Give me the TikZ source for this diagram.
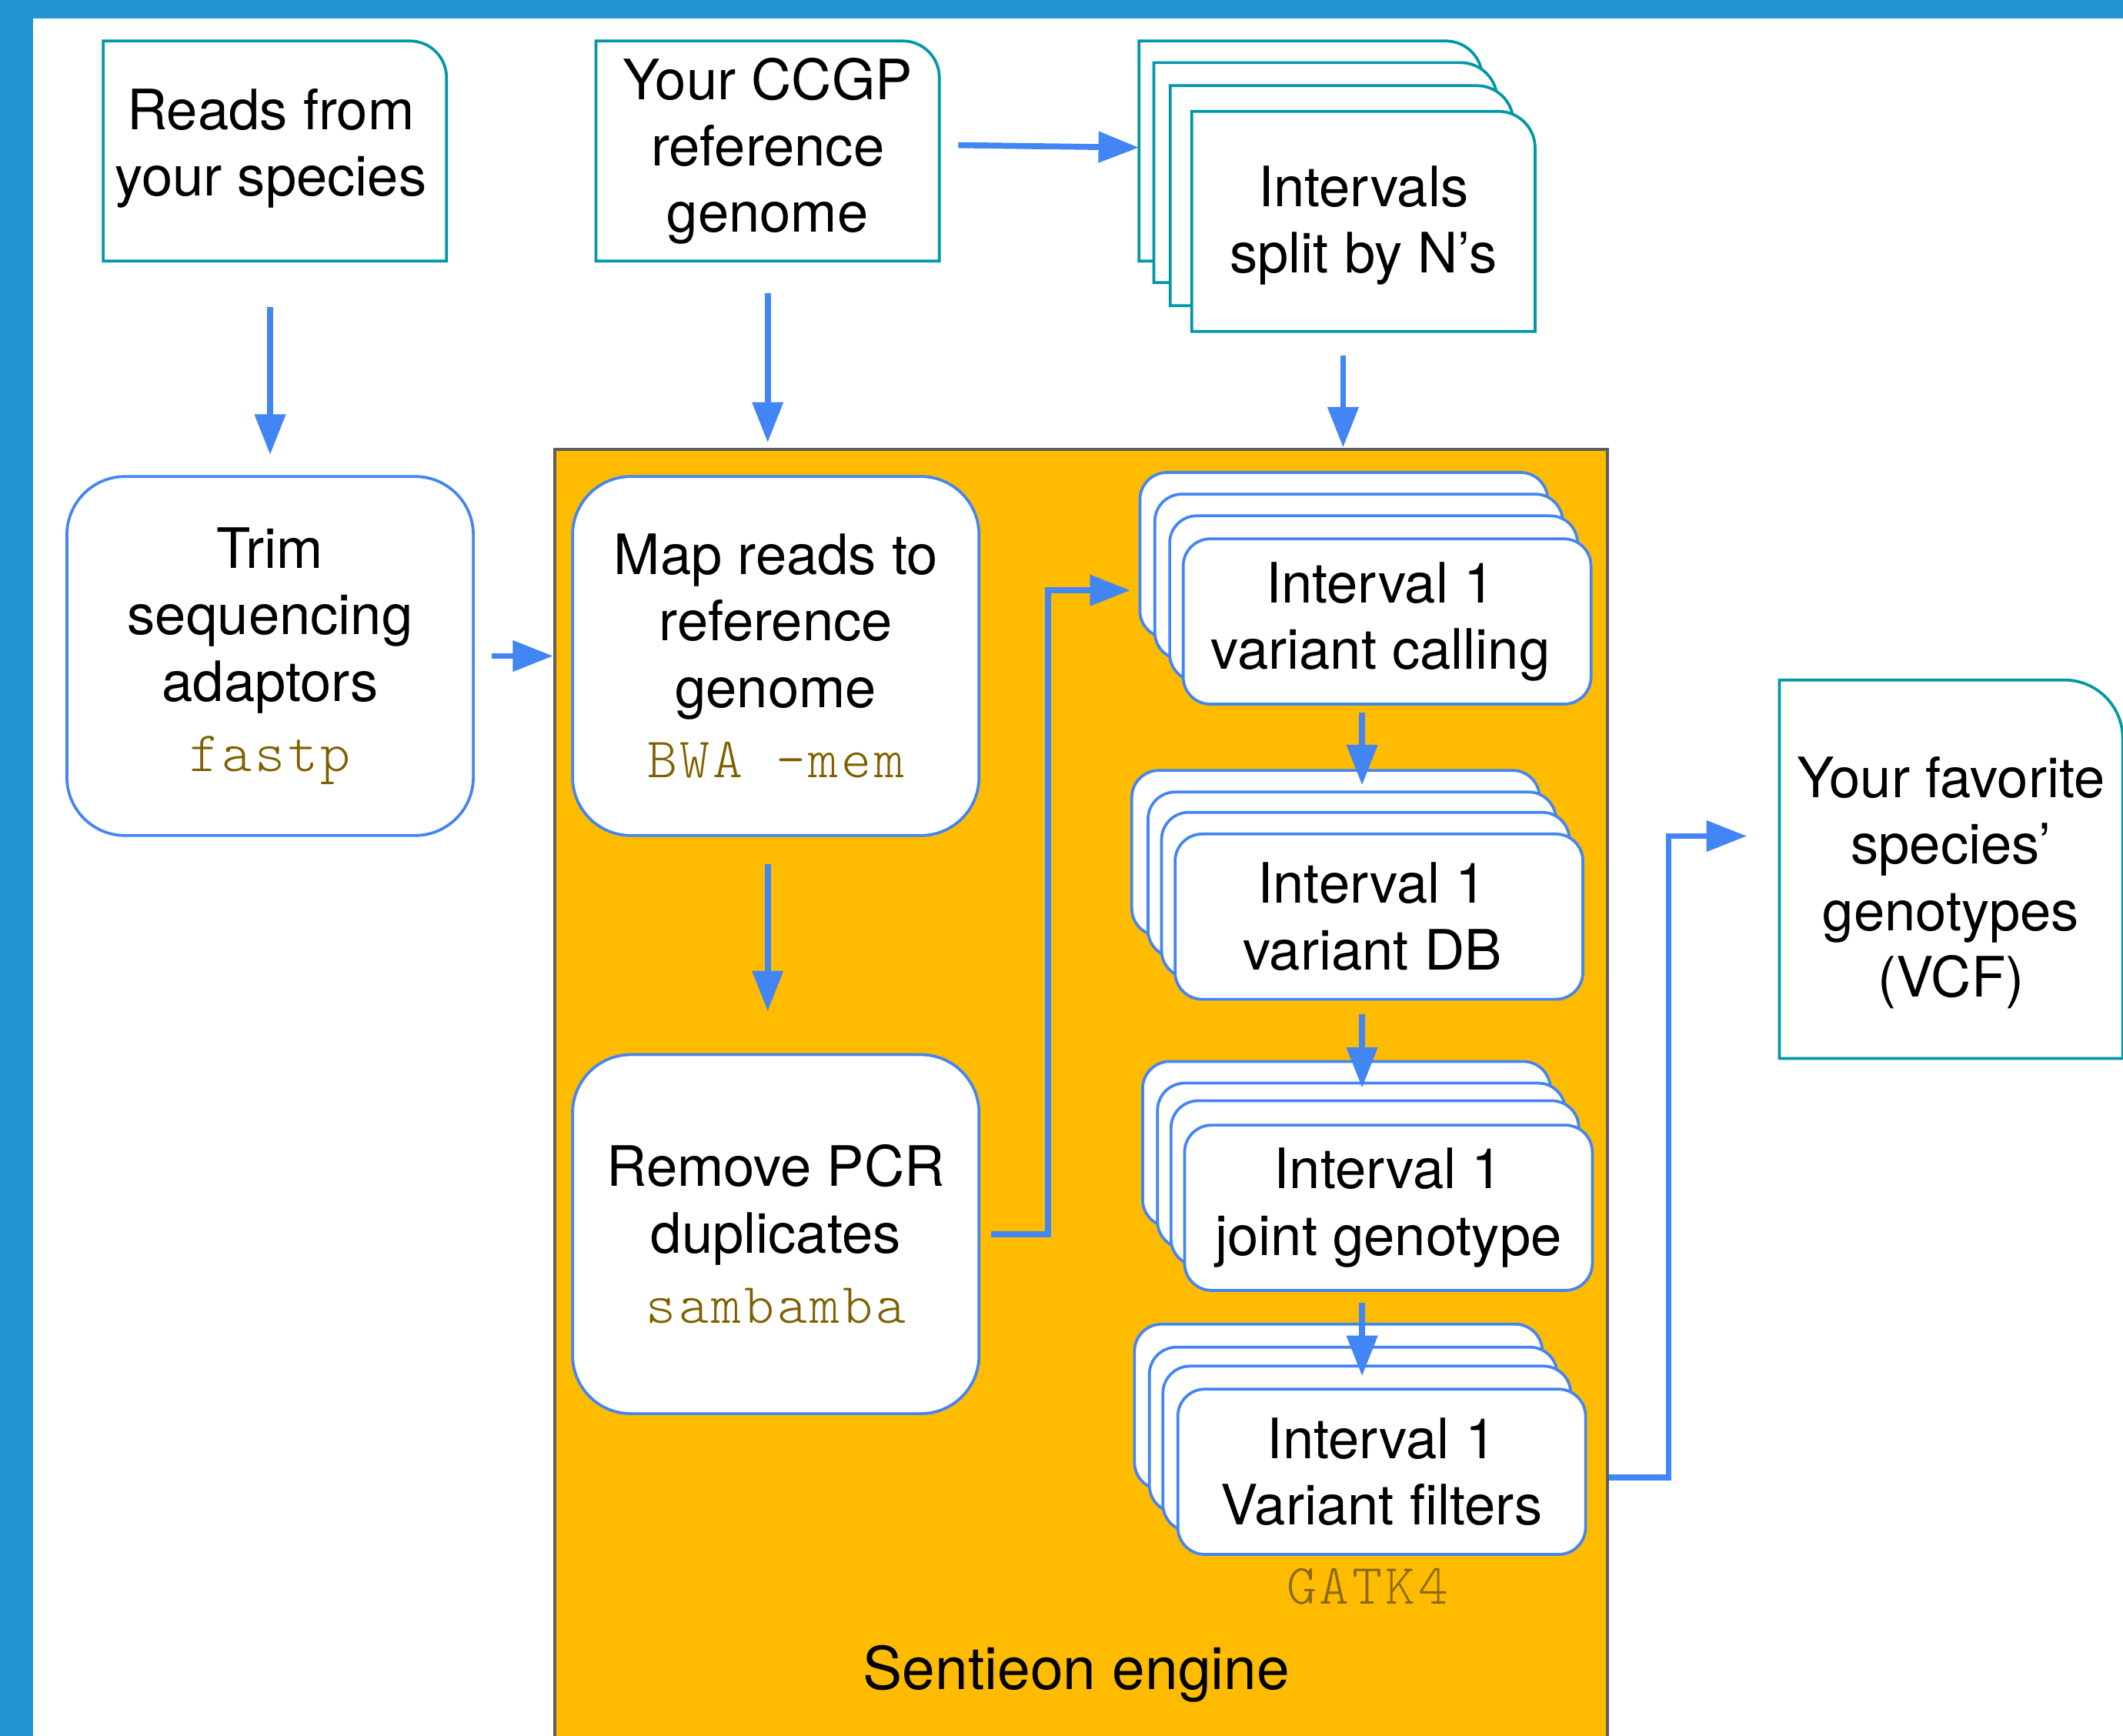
\documentclass[tikz,border=0pt]{standalone}
\usepackage{fontspec}
\setmainfont{TeX Gyre Heros}
\newfontfamily\codefont[LetterSpace=5]{lmmonolt10-regular.otf}
\usetikzlibrary{arrows.meta,calc}
\definecolor{framebl}{RGB}{35,150,210}
\definecolor{tealc}{RGB}{0,151,167}
\definecolor{bluec}{RGB}{66,133,244}
\definecolor{orangec}{RGB}{255,187,0}
\definecolor{oliv}{RGB}{127,96,0}
\definecolor{gatkc}{RGB}{140,105,20}
\definecolor{grayb}{RGB}{95,95,95}
\newcommand{\docshape}[2][0.27cm]{\filldraw[docline] (#2.south west) -- (#2.north west) -- ([xshift=-#1]#2.north east) arc[start angle=90,end angle=0,radius=#1] -- (#2.south east) -- cycle;}
\newcommand{\codetxt}[1]{\textcolor{oliv}{\fontsize{12pt}{14pt}\codefont #1}}
\begin{document}
\begin{tikzpicture}[x=0.01cm,y=-0.01cm,
  txt/.style={font=\fontsize{11.7pt}{13.94pt}\selectfont, align=center, inner sep=0pt},
  docbox/.style={inner sep=0pt, minimum width=2.52cm, minimum height=1.61cm},
  docline/.style={draw=tealc, fill=white, line width=0.6pt},
  roundbox/.style={txt, draw=bluec, fill=white, line width=0.6pt, rounded corners=0.43cm, minimum width=3.0cm, minimum height=2.65cm},
  stackbox/.style={txt, draw=bluec, fill=white, line width=0.6pt, rounded corners=0.2cm, minimum width=3.01cm, minimum height=1.22cm},
  engine/.style={draw=grayb, fill=orangec, line width=0.7pt, minimum width=7.77cm, minimum height=9.58cm, inner sep=0pt},
  arr/.style={draw=bluec, line width=1.25pt, -{Triangle[length=8.5pt,width=6.3pt]}}
]
\useasboundingbox (0,0) rectangle (1568,1282);
\fill[framebl] (0,0) rectangle (1568,13.6);
\fill[framebl] (0,0) rectangle (24.5,1282);

% inputs
\node[docbox] (reads) at (203,111.5) {};
\docshape{reads}
\node[txt] (readstxt) at ([xshift=-0.03cm,yshift=0.02cm]reads.center) {Reads from\\your species};
\node[docbox] (ccgp) at (567,111.5) {};
\docshape{ccgp}
\node[txt] (ccgptxt) at (ccgp.center) {Your CCGP\\reference\\genome};
\node[docbox] (inta) at (968,111.5) {}; \docshape{inta}
\node[docbox] (intb) at (979,127.5) {}; \docshape{intb}
\node[docbox] (intc) at (991,144.5) {}; \docshape{intc}
\node[docbox] (intd) at (1007,163.5) {}; \docshape{intd}
\node[txt] (inttxt) at ([yshift=-0.03cm]intd.center) {Intervals\\split by N’s};

% trimming
\node[roundbox] (trim) at (199.5,484.5) {Trim\\sequencing\\adaptors\\[0.8pt]\codetxt{fastp}};

% engine
\node[engine] (engine) at (798.5,811) {};
\node[font=\fontsize{12.4pt}{15pt}\selectfont, inner sep=0pt] (sent) at (795,1236) {Sentieon engine};
\node[roundbox] (map) at (573,484.5) {Map reads to\\reference\\genome\\[0.8pt]\codetxt{BWA -mem}};
\node[roundbox] (remove) at (573,911.5) {Remove PCR\\duplicates\\[0.8pt]\codetxt{sambamba}};

% stacks
\node[stackbox] (vca) at (992.5,410) {};
\node[stackbox] (vcb) at (1003.5,426) {};
\node[stackbox] (vcc) at (1014.5,442) {};
\node[stackbox] (vcd) at (1024.5,459) {Interval 1\hspace*{0.1cm}\\variant calling\hspace*{0.1cm}};

\node[stackbox] (dba) at (986.5,630) {};
\node[stackbox] (dbb) at (998.5,646) {};
\node[stackbox] (dbc) at (1008.5,661) {};
\node[stackbox] (dbd) at (1018.5,677) {Interval 1\hspace*{0.1cm}\\variant DB\hspace*{0.1cm}};

\node[stackbox] (jga) at (994.5,845) {};
\node[stackbox] (jgb) at (1005.5,861) {};
\node[stackbox] (jgc) at (1015.5,874) {};
\node[stackbox] (jgd) at (1025.5,892) {Interval 1\\joint genotype};

\node[stackbox] (vfa) at (988.5,1039) {};
\node[stackbox] (vfb) at (999.5,1056) {};
\node[stackbox] (vfc) at (1009.5,1070) {};
\node[stackbox] (vfd) at (1020.5,1087) {Interval 1\\Variant filters};

\node[font=\fontsize{12pt}{14pt}\codefont, text=gatkc, inner sep=0pt] (gatk) at (1010,1172) {GATK4};

% output
\node[docbox, minimum height=2.78cm] (vcf) at (1441,642) {};
\docshape[0.43cm]{vcf}
\node[txt] (vcftxt) at ([yshift=-0.1cm]vcf.center) {Your favorite\\species’\\genotypes\\(VCF)};

% connectors
\coordinate (colx) at (1006,0);
\coordinate (outy) at (0,1091);
\draw[arr, shorten <=0.34cm, shorten >=0.15cm] (reads.south -| trim.north) -- (trim.north);
\draw[arr, shorten <=0.24cm, shorten >=0.24cm] (ccgp.south) -- (ccgp.south |- map.north);
\draw[arr, shorten <=0.14cm] ([yshift=0.045cm]ccgp.east) -- ([yshift=0.025cm]inta.west);
\draw[arr, shorten <=0.18cm] ([xshift=-0.15cm]intd.south) -- ([xshift=-0.15cm]intd.south |- engine.north);
\draw[arr, shorten <=0.125cm] (trim.east) -- (engine.west |- trim.east);
\draw[arr, shorten <=0.2cm, shorten >=0.31cm] ([xshift=-0.06cm]map.south) -- ([xshift=-0.06cm]remove.north);
\draw[arr, shorten <=0.08cm, shorten >=0.06cm] (remove.east) -- ++(50,0) |- ([yshift=-0.26cm]vca.west);
\draw[arr, shorten <=0.05cm, shorten >=0.04cm] (colx |- vcd.south) -- (colx |- dbb.north);
\draw[arr, shorten <=0.1cm, shorten >=0.085cm] (colx |- dbd.south) -- (colx |- jgc.north);
\draw[arr, shorten <=0.08cm, shorten >=0.086cm] (colx |- jgd.south) -- (colx |- vfd.north);
\draw[arr, shorten >=0.24cm] (engine.east |- outy) -- ++(44,0) |- ([yshift=0.245cm]vcf.west);
\end{tikzpicture}
\end{document}
